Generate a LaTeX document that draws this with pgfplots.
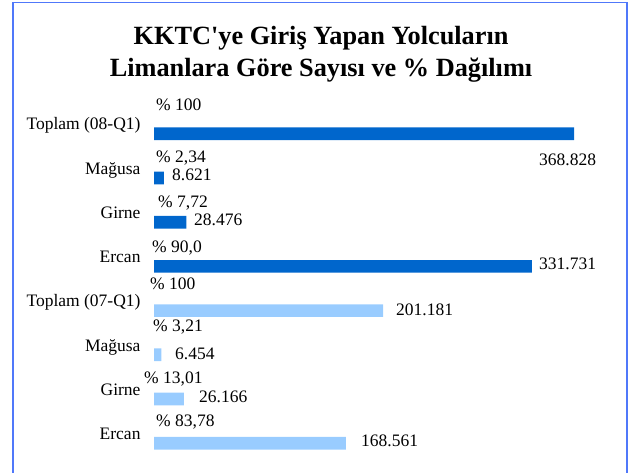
\documentclass[border=0pt]{standalone}
\usepackage{fontspec}
\setmainfont{Liberation Serif}
\usepackage{pgfplots}
\pgfplotsset{compat=1.18}
\definecolor{darkbar}{RGB}{0,102,204}
\definecolor{lightbar}{RGB}{153,204,255}
\definecolor{framecol}{RGB}{80,120,250}
\tikzset{lbl/.style={anchor=west, inner sep=0pt, text height=0.68em, text depth=0pt, font=\fontsize{17.5bp}{21bp}\selectfont}}
\newcommand{\sq}{{\addfontfeatures{Ligatures=TeXOff}'}}
\begin{document}
\begin{tikzpicture}[x=1bp,y=1bp]
\useasboundingbox (0,0) rectangle (632,473);
\draw[framecol, line width=1.6bp] (13,-10) -- (13,470.5) -- (627,470.5) -- (627,-10);
\node[anchor=base, inner sep=0pt, font=\fontsize{26.3bp}{30bp}\selectfont\bfseries] at (321,428.7) {KKTC\sq ye Giriş Yapan Yolcuların};
\node[anchor=base, inner sep=0pt, font=\fontsize{26.3bp}{30bp}\selectfont\bfseries] at (321,396.3) {Limanlara Göre Sayısı ve \% Dağılımı};
\begin{axis}[
  at={(154bp,7.6bp)}, anchor=south west,
  scale only axis, width=455.5bp, height=353.8bp,
  xmin=0, xmax=400000, ymin=-0.5, ymax=7.5,
  xbar, bar width=12.7bp, bar shift=0pt,
  axis line style={draw=none}, tick style={draw=none}, major tick length=0pt,
  xtick=\empty,
  ytick={0.16,1.16,2.16,3.16,4.16,5.16,6.16,7.16},
  yticklabels={Ercan, Girne, Mağusa, Toplam (07-Q1), Ercan, Girne, Mağusa, Toplam (08-Q1)},
  yticklabel style={anchor=east, inner sep=0pt, xshift=-13.3bp, text height=0.66em, text depth=0pt, font=\fontsize{17.5bp}{21bp}\selectfont},
  clip=false,
]
\addplot[fill=darkbar, draw=none] coordinates {(368828,7) (8621,6) (28476,5) (331731,4)};
\addplot[fill=lightbar, draw=none] coordinates {(201181,3) (6454,2) (26166,1) (168561,0)};
% percentage labels
\node[lbl] at (axis cs:1756,7.6) {\% 100};
\node[lbl] at (axis cs:1756,6.42) {\% 2,34};
\node[lbl] at (axis cs:3513,5.4) {\% 7,72};
\node[lbl] at (axis cs:-1756,4.4) {\% 90,0};
\node[lbl] at (axis cs:-3513,3.56) {\% 100};
\node[lbl] at (axis cs:-878,2.6) {\% 3,21};
\node[lbl] at (axis cs:-8782,1.43) {\% 13,01};
\node[lbl] at (axis cs:1756,0.45) {\% 83,78};
% value labels
\node[lbl] at (axis cs:338100,6.36) {368.828};
\node[lbl] at (axis cs:15807,6.02) {8.621};
\node[lbl] at (axis cs:35128,5.0) {28.476};
\node[lbl] at (axis cs:338100,4.0) {331.731};
\node[lbl] at (axis cs:212523,2.96) {201.181};
\node[lbl] at (axis cs:18442,1.98) {6.454};
\node[lbl] at (axis cs:39519,1.01) {26.166};
\node[lbl] at (axis cs:181786,0.0) {168.561};
\end{axis}
\end{tikzpicture}
\end{document}
